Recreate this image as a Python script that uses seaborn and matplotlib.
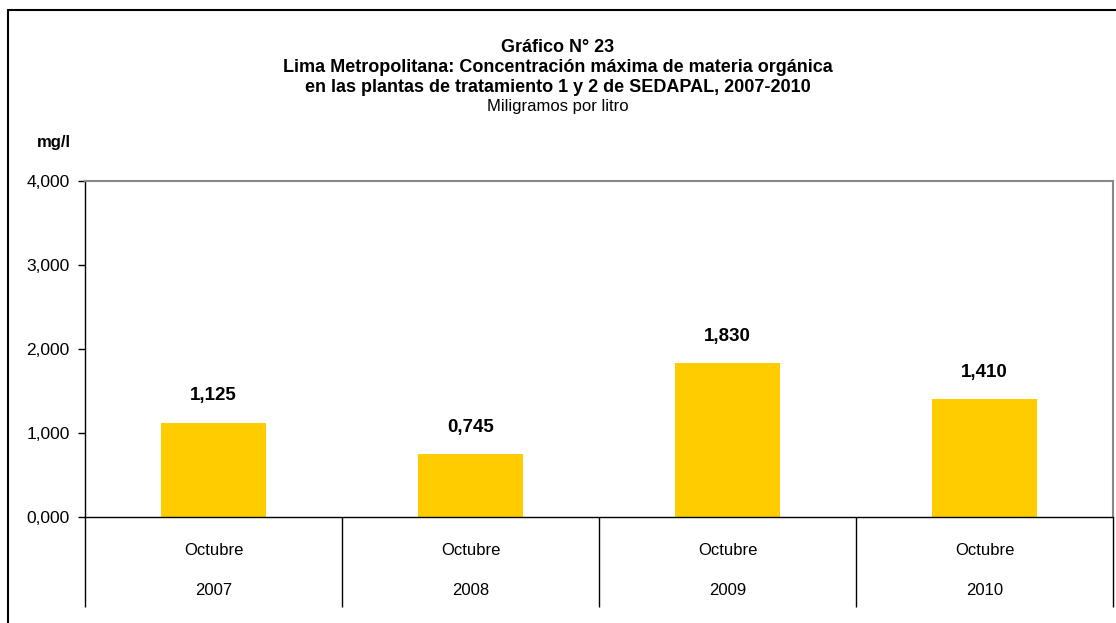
import pandas as pd
import matplotlib
matplotlib.use('Agg')
import matplotlib.pyplot as plt
import matplotlib.transforms as mtransforms
import seaborn as sns

# datos
years = ['2007', '2008', '2009', '2010']
months = ['Octubre', 'Octubre', 'Octubre', 'Octubre']
values = [1.125, 0.745, 1.830, 1.410]
yticks = [0, 1, 2, 3, 4]

sns.set_style('white')
plt.rcParams['font.family'] = ['Liberation Sans', 'DejaVu Sans']
plt.rcParams['text.color'] = 'black'
plt.rcParams['xtick.color'] = 'black'
plt.rcParams['ytick.color'] = 'black'

df = pd.DataFrame({'year': years, 'month': months, 'value': values})

fig = plt.figure(figsize=(11.16, 6.23), dpi=100)
ax = fig.add_axes([85 / 1116, 1 - 517 / 623, (1113 - 85) / 1116, (517 - 181) / 623])

sns.barplot(x='year', y='value', data=df, color='#FFCC00', width=0.405,
            saturation=1, ax=ax, edgecolor='none')

ax.set_ylim(0, 4)
ax.set_xlim(-0.5, len(years) - 0.5)
ax.set_yticks(yticks)
ax.set_yticklabels([f'{v:.3f}'.replace('.', ',') for v in yticks], fontsize=12.5)
ax.tick_params(axis='y', direction='out', length=5, width=1, color='black', pad=6, left=True)

# etiquetas de categoria en dos niveles
ax.set_xticks(range(len(years)))
ax.set_xticklabels(df['month'], fontsize=12)
ax.tick_params(axis='x', which='major', length=0, pad=19, bottom=True)
ax.set_xticks([i - 0.5 for i in range(len(years) + 1)], minor=True)
ax.tick_params(axis='x', which='minor', direction='out', length=65, width=1,
               color='black', bottom=True)
trans = mtransforms.blended_transform_factory(ax.transData, ax.transAxes)
for i, yr in enumerate(df['year']):
    ax.text(i, -0.22, yr, transform=trans, ha='center', va='center', fontsize=12)
ax.set_xlabel('')
ax.set_ylabel('')

for s in ['left', 'bottom']:
    ax.spines[s].set_color('black')
    ax.spines[s].set_linewidth(1)
for s in ['top', 'right']:
    ax.spines[s].set_color('#888888')
    ax.spines[s].set_linewidth(1.5)

# valores sobre las barras
for i, v in enumerate(df['value']):
    ax.annotate(f'{v:.3f}'.replace('.', ','), (i, v), xytext=(0, 13),
                textcoords='offset points', ha='center', va='bottom',
                fontsize=13.5, fontweight='semibold')

# titulos
fig.text(0.5, 1 - 47 / 623, 'Gráfico N° 23', ha='center', va='center',
         fontsize=13, fontweight='bold')
fig.text(0.5, 1 - 67 / 623, 'Lima Metropolitana: Concentración máxima de materia orgánica',
         ha='center', va='center', fontsize=13, fontweight='bold')
fig.text(0.5, 1 - 87 / 623, 'en las plantas de tratamiento 1 y 2 de SEDAPAL, 2007-2010',
         ha='center', va='center', fontsize=13, fontweight='bold')
fig.text(0.5, 1 - 107 / 623, 'Miligramos por litro', ha='center', va='center', fontsize=12)
fig.text(54 / 1116, 1 - 143 / 623, 'mg/l', ha='center', va='center',
         fontsize=12, fontweight='bold')

# marco exterior
fig.add_artist(plt.Line2D([8 / 1116, 8 / 1116], [0, 1 - 10 / 623], color='black', lw=1.5,
                          transform=fig.transFigure))
fig.add_artist(plt.Line2D([8 / 1116, 1], [1 - 10 / 623, 1 - 10 / 623], color='black', lw=1.5,
                          transform=fig.transFigure))

fig.savefig('out.png', dpi=100)
